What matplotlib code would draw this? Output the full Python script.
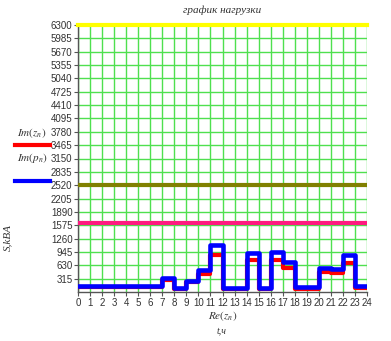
import matplotlib
matplotlib.use("Agg")
import matplotlib.pyplot as plt
from matplotlib.lines import Line2D
import numpy as np

# ── Data ──────────────────────────────────────────────────────────────────────
hours = list(range(25))
s_blue = [150, 150, 150, 150, 150, 150, 150, 330, 102, 268, 512, 1118,
          102, 102, 921, 102, 937, 700, 110, 110, 567, 543, 882, 150]
s_red = [115, 115, 115, 115, 115, 115, 115, 276, 71, 228, 433, 882,
         80, 80, 745, 80, 756, 556, 80, 80, 482, 457, 695, 95]
level_top = 6300
level_olive = 2520
level_pink = 1625

y_ticks = [315 * i for i in range(1, 21)]
x_ticks = list(range(25))

GRID = "#4fe04f"
SANS = "Liberation Sans"
SERIF = "Liberation Serif"
plt.rcParams["mathtext.fontset"] = "stix"

fig = plt.figure(figsize=(3.91, 3.41), dpi=100)
ax = fig.add_axes([78 / 391, 1 - 292 / 341, 289 / 391, 267 / 341])

ax.set_xlim(0, 24)
ax.set_ylim(0, 6300)
ax.set_xticks(x_ticks)
ax.set_yticks(y_ticks)
ax.set_xticklabels([str(v) for v in x_ticks], fontsize=7, family=SANS, color="#333333")
ax.set_yticklabels([str(v) for v in y_ticks], fontsize=7, family=SANS, color="#333333")
ax.tick_params(axis="both", length=3, width=0.8, color="#555555", pad=1)
ax.grid(True, color=GRID, linewidth=1.0)
ax.set_axisbelow(True)

for side in ("top", "right"):
    ax.spines[side].set_visible(False)
for side in ("left", "bottom"):
    ax.spines[side].set_color("#555555")
    ax.spines[side].set_linewidth(1.0)

ax.axhline(level_top, color="#ffff00", linewidth=3, clip_on=False, zorder=3)
ax.axhline(level_olive, color="#808000", linewidth=3, zorder=3)
ax.axhline(level_pink, color="#ff1a80", linewidth=3, zorder=3)

ax.step(hours, s_red + [s_red[-1]], where="post", color="#ff0000", linewidth=3, zorder=4)
ax.step(hours, s_blue + [s_blue[-1]], where="post", color="#0000ff", linewidth=3.3, zorder=5)

# ── Texts and legend ─────────────────────────────────────────────────────────
fig.text(222 / 391, 1 - 10 / 341, "график нагрузки", ha="center", va="center",
         fontsize=8, family=SERIF, style="italic", color="#333333")
fig.text(8 / 391, 1 - 238 / 341, "S,kBA", ha="center", va="center", rotation=90,
         fontsize=8, family=SERIF, style="italic", color="#333333")
fig.text(32 / 391, 1 - 133 / 341, r"$Im\left(z_n\right)$", ha="center", va="center",
         fontsize=8, color="#333333")
fig.text(32 / 391, 1 - 158 / 341, r"$Im\left(p_n\right)$", ha="center", va="center",
         fontsize=8, color="#333333")
fig.add_artist(Line2D([15 / 391, 50 / 391], [1 - 145 / 341] * 2, color="#ff0000", linewidth=3))
fig.add_artist(Line2D([15 / 391, 50 / 391], [1 - 181 / 341] * 2, color="#0000ff", linewidth=3))
fig.text(223 / 391, 1 - 316 / 341, r"$Re\left(z_n\right)$", ha="center", va="center",
         fontsize=8, color="#333333")
fig.text(222 / 391, 1 - 331 / 341, "t,ч", ha="center", va="center",
         fontsize=7, family=SERIF, style="italic", color="#333333")

fig.savefig("out.png", dpi=100)
